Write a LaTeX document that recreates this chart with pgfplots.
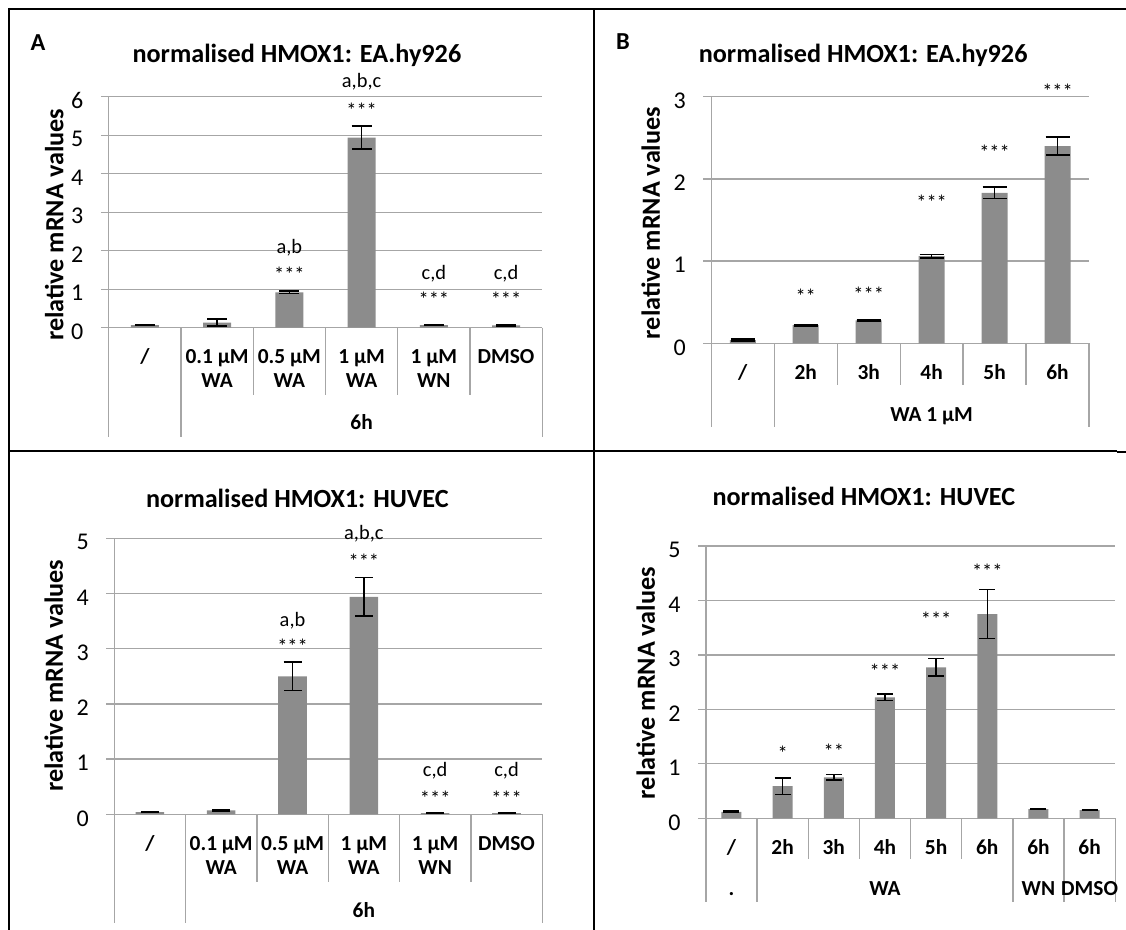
\documentclass[border=0pt]{standalone}
\usepackage{fontspec}
\setmainfont{Carlito}
\usepackage{pgfplots}
\usepackage{pgfplotstable}
\pgfplotsset{compat=1.18}
\definecolor{barGray}{RGB}{140,140,140}
\definecolor{gridgray}{RGB}{166,166,166}
\newcommand\titlefont{\fontsize{13.1}{15}\selectfont\bfseries}
\newcommand\tickfont{\fontsize{12}{14}\selectfont}
\newcommand\catfont{\fontsize{10.7}{12}\selectfont\bfseries}
\newcommand\annfont{\fontsize{10.2}{12}\selectfont}
\newcommand\letterfont{\fontsize{12.2}{14}\selectfont\bfseries}
\tikzset{sep/.style={gridgray, line width=0.65pt}}

\pgfplotsset{
  panel/.style={
    scale only axis, clip=false,
    axis lines*=left,
    axis line style={gridgray, line width=0.65pt},
    ymin=0, ymajorgrids, grid style={gridgray, line width=0.65pt},
    tick align=outside, major tick length=4pt,
    ytick style={gridgray, line width=0.65pt},
    xtick style={draw=none},
    ybar, bar shift=0pt,
    /pgf/number format/assume math mode=true,
    yticklabel style={font=\tickfont, anchor=east, inner sep=0pt, xshift=-8.5pt, yshift=-2pt},
    xticklabel style={font=\catfont, align=center, anchor=north, inner sep=0pt, yshift=-5.3pt},
    title style={font=\titlefont, anchor=center, yshift=-6pt},
    ylabel style={font=\titlefont, anchor=center},
    ylabel={relative mRNA values},
  },
  bars/.style={fill=barGray, draw=none,
    error bars/.cd, y dir=both, y explicit,
    error bar style={black, line width=0.75pt},
    error mark options={rotate=90, mark size=#1, black, line width=0.75pt}},
}

\pgfplotstableread{
x y e
1 0.07 0.01
2 0.13 0.09
3 0.92 0.03
4 4.94 0.30
5 0.07 0.01
6 0.06 0.01
}\dataA
\pgfplotstableread{
x y e
1 0.04 0.01
2 0.22 0.01
3 0.28 0.01
4 1.06 0.02
5 1.83 0.07
6 2.40 0.11
}\dataB
\pgfplotstableread{
x y e
1 0.04 0.01
2 0.07 0.01
3 2.50 0.26
4 3.94 0.35
5 0.02 0.01
6 0.02 0.01
}\dataC
\pgfplotstableread{
x y e
1 0.12 0.01
2 0.59 0.15
3 0.75 0.05
4 2.22 0.06
5 2.77 0.16
6 3.75 0.45
7 0.17 0.01
8 0.15 0.01
}\dataD

\begin{document}
\begin{tikzpicture}
\useasboundingbox (0,0) rectangle (563pt,-465pt);
\begin{scope}[x=0.5pt,y=-0.5pt]
\draw[line width=1pt] (8,9) -- (1126,9);
\draw[line width=1pt] (9,8) -- (9,930);
\draw[line width=1pt] (594,9) -- (594,930);
\draw[line width=0.65pt] (9,451) -- (1117,451);
\draw[line width=1pt] (9,451) -- (23,451);
\draw[line width=1pt] (572,451) -- (608,451);
\draw[line width=1pt] (1117,452) -- (1126,452);
\node[font=\letterfont] at (38,43) {A};
\node[font=\letterfont] at (623,42) {B};
\end{scope}

% ---------------- Panel A
\begin{axis}[panel, at={(54.4pt,-163.85pt)}, anchor=south west,
  width=216.7pt, height=115.5pt,
  xmin=0.5, xmax=6.5, ymax=6, ytick={0,1,...,6},
  bar width=14pt,
  xtick={1,...,6},
  xticklabels={{\strut /},{\strut 0.1 µM\\WA},{\strut 0.5 µM\\WA},{\strut 1 µM\\WA},{\strut 1 µM\\WN},{\strut DMSO}},
  title={normalised HMOX1: EA.hy926},
  title style={at={(axis description cs:0.434,1.180)}},
  ylabel style={at={(axis description cs:-0.126,0.445)}},
]
\addplot[bars=5pt] table[x=x,y=y,y error=e] {\dataA};
\draw[sep] (axis cs:0.5,0) -- ++(0pt,-54.5pt);
\draw[sep] (axis cs:1.5,0) -- ++(0pt,-54.5pt);
\draw[sep] (axis cs:6.5,0) -- ++(0pt,-54.5pt);
\draw[sep] (axis cs:2.5,0) -- ++(0pt,-33.65pt);
\draw[sep] (axis cs:3.5,0) -- ++(0pt,-33.65pt);
\draw[sep] (axis cs:4.5,0) -- ++(0pt,-33.65pt);
\draw[sep] (axis cs:5.5,0) -- ++(0pt,-33.65pt);
\node[font=\catfont, anchor=base] at (axis cs:4,0) [yshift=-51.15pt] {6h};
\node[font=\annfont, anchor=base] at (axis cs:4,6.23) {a,b,c};
\node[font=\annfont, anchor=base] at (axis cs:4,5.47) {***};
\node[font=\annfont, anchor=base] at (axis cs:3,1.94) {a,b};
\node[font=\annfont, anchor=base] at (axis cs:3,1.19) {***};
\node[font=\annfont, anchor=base] at (axis cs:5,1.26) {c,d};
\node[font=\annfont, anchor=base] at (axis cs:5,0.56) {***};
\node[font=\annfont, anchor=base] at (axis cs:6,1.26) {c,d};
\node[font=\annfont, anchor=base] at (axis cs:6,0.56) {***};
\end{axis}

% ---------------- Panel B
\begin{axis}[panel, at={(355.65pt,-171.65pt)}, anchor=south west,
  width=188.85pt, height=123.3pt,
  xmin=0.5, xmax=6.5, ymax=3, ytick={0,1,2,3},
  bar width=13pt,
  xtick={1,...,6},
  xticklabels={{\strut /},{\strut 2h},{\strut 3h},{\strut 4h},{\strut 5h},{\strut 6h}},
  title={normalised HMOX1: EA.hy926},
  title style={at={(axis description cs:0.402,1.169)}},
  ylabel style={at={(axis description cs:-0.160,0.488)}},
]
\addplot[bars=6pt] table[x=x,y=y,y error=e] {\dataB};
\draw[sep] (axis cs:0.5,0) -- ++(0pt,-41.7pt);
\draw[sep] (axis cs:1.5,0) -- ++(0pt,-41.7pt);
\draw[sep] (axis cs:6.5,0) -- ++(0pt,-41.7pt);
\draw[sep] (axis cs:2.5,0) -- ++(0pt,-20.85pt);
\draw[sep] (axis cs:3.5,0) -- ++(0pt,-20.85pt);
\draw[sep] (axis cs:4.5,0) -- ++(0pt,-20.85pt);
\draw[sep] (axis cs:5.5,0) -- ++(0pt,-20.85pt);
\node[font=\catfont, anchor=base] at (axis cs:4,0) [yshift=-39.35pt] {WA 1 µM};
\node[font=\annfont, anchor=base] at (axis cs:2,0.48) {**};
\node[font=\annfont, anchor=base] at (axis cs:3,0.51) {***};
\node[font=\annfont, anchor=base] at (axis cs:4,1.63) {***};
\node[font=\annfont, anchor=base] at (axis cs:5,2.23) {***};
\node[font=\annfont, anchor=base] at (axis cs:6,2.98) {***};
\end{axis}

% ---------------- Panel C
\begin{axis}[panel, at={(57.1pt,-407.15pt)}, anchor=south west,
  width=214pt, height=138pt,
  xmin=0.5, xmax=6.5, ymax=5, ytick={0,1,...,5},
  bar width=14.3pt,
  xtick={1,...,6},
  xticklabels={{\strut /},{\strut 0.1 µM\\WA},{\strut 0.5 µM\\WA},{\strut 1 µM\\WA},{\strut 1 µM\\WN},{\strut DMSO}},
  title={normalised HMOX1: HUVEC},
  title style={at={(axis description cs:0.428,1.145)}},
  ylabel style={at={(axis description cs:-0.141,0.502)}},
]
\addplot[bars=4.5pt] table[x=x,y=y,y error=e] {\dataC};
\draw[sep] (axis cs:0.5,0) -- ++(0pt,-54.5pt);
\draw[sep] (axis cs:1.5,0) -- ++(0pt,-54.5pt);
\draw[sep] (axis cs:6.5,0) -- ++(0pt,-54.5pt);
\draw[sep] (axis cs:2.5,0) -- ++(0pt,-33.7pt);
\draw[sep] (axis cs:3.5,0) -- ++(0pt,-33.7pt);
\draw[sep] (axis cs:4.5,0) -- ++(0pt,-33.7pt);
\draw[sep] (axis cs:5.5,0) -- ++(0pt,-33.7pt);
\node[font=\catfont, anchor=base] at (axis cs:4,0) [yshift=-51.7pt] {6h};
\node[font=\annfont, anchor=base] at (axis cs:3,3.41) {a,b};
\node[font=\annfont, anchor=base] at (axis cs:3,2.92) {***};
\node[font=\annfont, anchor=base] at (axis cs:4,4.98) {a,b,c};
\node[font=\annfont, anchor=base] at (axis cs:4,4.46) {***};
\node[font=\annfont, anchor=base] at (axis cs:5,0.68) {c,d};
\node[font=\annfont, anchor=base] at (axis cs:5,0.16) {***};
\node[font=\annfont, anchor=base] at (axis cs:6,0.68) {c,d};
\node[font=\annfont, anchor=base] at (axis cs:6,0.16) {***};
\end{axis}

% ---------------- Panel D
\begin{axis}[panel, at={(352.95pt,-409.15pt)}, anchor=south west,
  width=204.65pt, height=136.15pt,
  xmin=0.5, xmax=8.5, ymax=5, ytick={0,1,...,5},
  bar width=10pt,
  xtick={1,...,8},
  xticklabels={{\strut /},{\strut 2h},{\strut 3h},{\strut 4h},{\strut 5h},{\strut 6h},{\strut 6h},{\strut 6h}},
  title={normalised HMOX1: HUVEC},
  title style={at={(axis description cs:0.386,1.181)}},
  ylabel style={at={(axis description cs:-0.147,0.497)}},
]
\addplot[bars=4pt] table[x=x,y=y,y error=e] {\dataD};
\draw[sep] (axis cs:0.5,0) -- ++(0pt,-41.7pt);
\draw[sep] (axis cs:1.5,0) -- ++(0pt,-41.7pt);
\draw[sep] (axis cs:6.5,0) -- ++(0pt,-41.7pt);
\draw[sep] (axis cs:7.5,0) -- ++(0pt,-41.7pt);
\draw[sep] (axis cs:8.5,0) -- ++(0pt,-41.7pt);
\draw[sep] (axis cs:2.5,0) -- ++(0pt,-20.5pt);
\draw[sep] (axis cs:3.5,0) -- ++(0pt,-20.5pt);
\draw[sep] (axis cs:4.5,0) -- ++(0pt,-20.5pt);
\draw[sep] (axis cs:5.5,0) -- ++(0pt,-20.5pt);
\node[font=\catfont, anchor=base] at (axis cs:1,0) [yshift=-38.5pt] {.};
\node[font=\catfont, anchor=base] at (axis cs:4,0) [yshift=-38.5pt] {WA};
\node[font=\catfont, anchor=base] at (axis cs:7,0) [yshift=-38.5pt] {WN};
\node[font=\catfont, anchor=base] at (axis cs:8,0) [yshift=-38.5pt] {DMSO};
\node[font=\annfont, anchor=base] at (axis cs:2,1.06) {*};
\node[font=\annfont, anchor=base] at (axis cs:3,1.10) {**};
\node[font=\annfont, anchor=base] at (axis cs:4,2.57) {***};
\node[font=\annfont, anchor=base] at (axis cs:5,3.52) {***};
\node[font=\annfont, anchor=base] at (axis cs:6,4.41) {***};
\end{axis}
\end{tikzpicture}
\end{document}
